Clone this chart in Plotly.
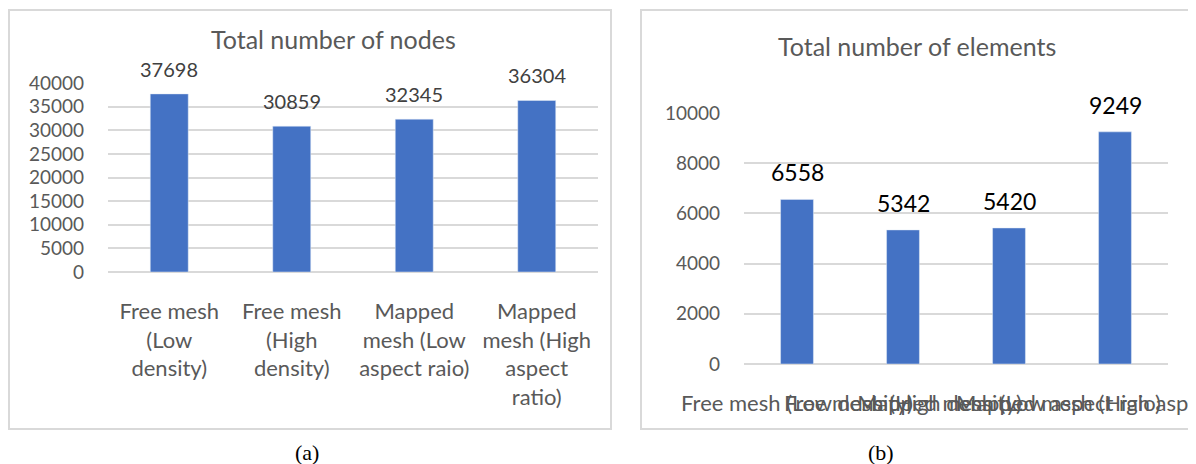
import plotly.graph_objects as go

# ---- data ----
categories = [
    "Free mesh (Low density)",
    "Free mesh (High density)",
    "Mapped mesh (Low aspect raio)",
    "Mapped mesh (High aspect ratio)",
]
nodes = [37698, 30859, 32345, 36304]
elements = [6558, 5342, 5420, 9249]
nodes_tick_labels = [
    "Free mesh<br>(Low<br>density)",
    "Free mesh<br>(High<br>density)",
    "Mapped<br>mesh (Low<br>aspect raio)",
    "Mapped<br>mesh (High<br>aspect<br>ratio)",
]
elements_tick_labels = categories
nodes_ticks = [0, 5000, 10000, 15000, 20000, 25000, 30000, 35000, 40000]
elements_ticks = [0, 2000, 4000, 6000, 8000, 10000]

# page is 1196x464; the figure sits 8px in from the top-left (body margin)
OFF = 8
W, H = 1196 - OFF, 464 - OFF
BAR = "#4472C4"
GRID = "#d9d9d9"
TXT = "#595959"
FONT = "Lato"


def px(x):
    return (x - OFF) / W


def py(y):
    return 1 - (y - OFF) / H


fig = go.Figure()
fig.add_trace(go.Bar(x=categories, y=nodes, marker_color=BAR, xaxis="x", yaxis="y",
                     showlegend=False, hoverinfo="skip"))
fig.add_trace(go.Bar(x=categories, y=elements, marker_color=BAR, xaxis="x2", yaxis="y2",
                     showlegend=False, hoverinfo="skip"))

annotations = []
for c, v in zip(categories, nodes):
    annotations.append(dict(x=c, y=v, xref="x", yref="y", text=str(v), showarrow=False,
                            xanchor="center", yanchor="bottom", yshift=11,
                            font=dict(family=FONT, size=20, color="#404040")))
for c, v in zip(categories, elements):
    annotations.append(dict(x=c, y=v, xref="x2", yref="y2", text=str(v), showarrow=False,
                            xanchor="center", yanchor="bottom", yshift=11,
                            font=dict(family=FONT, size=23, color="#000000")))


def paper_text(x, y, text, font):
    return dict(x=px(x), y=py(y), xref="paper", yref="paper", text=text, showarrow=False,
                xanchor="center", yanchor="middle", font=font)


annotations += [
    paper_text(333, 39, "Total number of nodes", dict(family=FONT, size=25, color=TXT)),
    paper_text(916.5, 46, "Total number of elements", dict(family=FONT, size=25, color=TXT)),
    paper_text(307, 452, "(a)", dict(family="Liberation Serif", size=22, color="#000000")),
    paper_text(881, 452, "(b)", dict(family="Liberation Serif", size=22, color="#000000")),
]

shapes = [
    dict(type="rect", xref="paper", yref="paper", x0=px(9), x1=px(611), y0=py(429), y1=py(10),
         line=dict(color=GRID, width=2), fillcolor="rgba(0,0,0,0)", layer="below"),
    dict(type="rect", xref="paper", yref="paper", x0=px(641), x1=px(1193), y0=py(429), y1=py(10),
         line=dict(color=GRID, width=2), fillcolor="rgba(0,0,0,0)", layer="below"),
]

ytickfont = dict(family=FONT, size=19, color=TXT)
xtickfont = dict(family=FONT, size=22, color=TXT)

common_x = dict(tickangle=0, showgrid=False, showline=False, ticks="", zeroline=False,
                automargin=False, ticklabelstandoff=24, tickfont=xtickfont, tickmode="array")
common_y = dict(showgrid=True, gridcolor=GRID, gridwidth=1.5, zeroline=True,
                zerolinecolor=GRID, zerolinewidth=1.5, showline=False, ticks="",
                automargin=False, ticklabelstandoff=23, tickfont=ytickfont, tickmode="array")

fig.update_layout(
    width=W, height=H,
    margin=dict(l=0, r=0, t=0, b=0, autoexpand=False),
    paper_bgcolor="white", plot_bgcolor="white",
    bargap=0.69,
    annotations=annotations,
    shapes=shapes,
    xaxis=dict(domain=[px(108), px(598)], anchor="y", tickvals=categories,
               ticktext=nodes_tick_labels, **common_x),
    yaxis=dict(domain=[py(272), py(83)], anchor="x", range=[0, 40000],
               tickvals=nodes_ticks, ticktext=[str(t) for t in nodes_ticks], **common_y),
    xaxis2=dict(domain=[px(744), px(1168)], anchor="y2", tickvals=categories,
                ticktext=elements_tick_labels, **common_x),
    yaxis2=dict(domain=[py(364), py(113)], anchor="x2", range=[0, 10000],
                tickvals=elements_ticks, ticktext=[str(t) for t in elements_ticks], **common_y),
)

fig.write_html("out.html")
